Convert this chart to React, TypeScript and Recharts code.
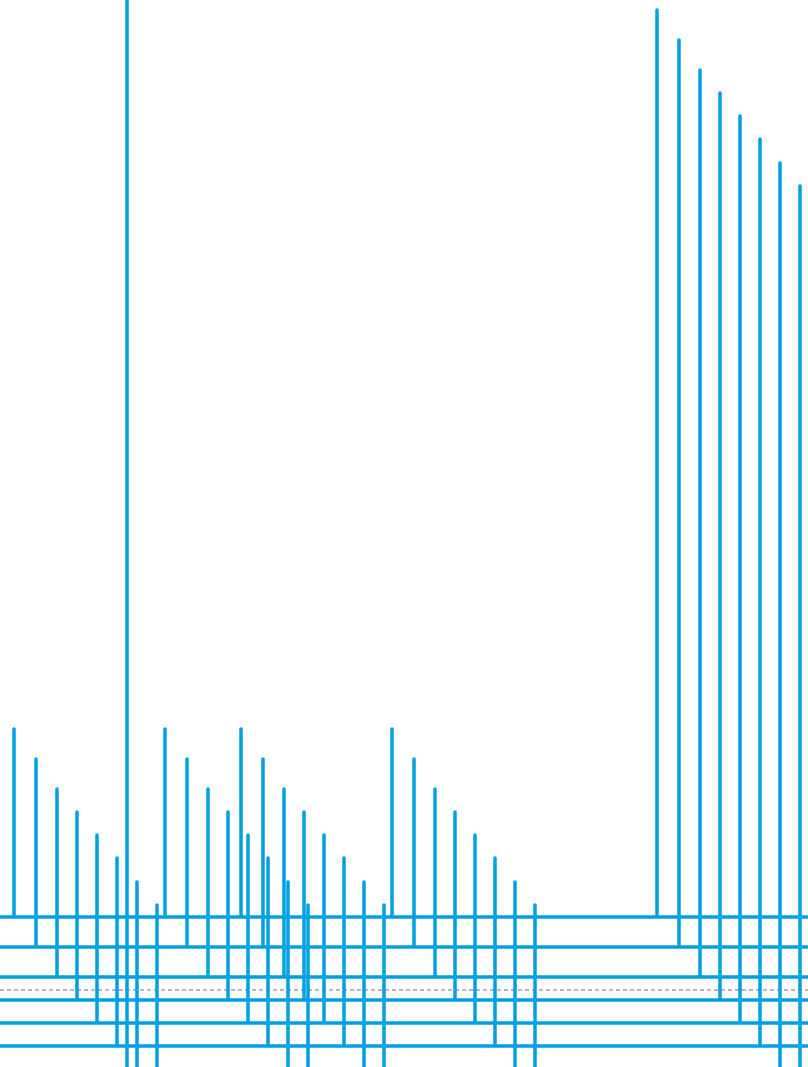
// Echoed spike lines: eight copies of one spike series, each shifted right and down.
import { Line, LineChart, ReferenceLine, XAxis, YAxis } from 'recharts'

const BLUE = '#00a0e3'

// x of each spike in the first echo, and its height above that echo's baseline
const spikeX = [14, 165, 241, 392, 657]
const spikeH = [188, 188, 188, 188, 907]

// per echo: shift to the right and baseline level
const echoShift = [0, 22, 43, 63, 83, 103, 123, 143]
const echoBase = [0, -30, -60, -83, -106, -129, -153, -176]

const tallX = 127 // lone line running through the whole chart
const markerY = -73 // dashed gray level

const X_MIN = 0
const X_MAX = 808
const Y_MIN = -150
const Y_MAX = 917

type Pt = { x: number; y: number }

function echo(i: number): Pt[] {
  const base = echoBase[i]
  const pts: Pt[] = [{ x: X_MIN - 20, y: base }]
  spikeX.forEach((sx, k) => {
    const x = sx + echoShift[i]
    pts.push({ x, y: base }, { x, y: base + spikeH[k] }, { x, y: base })
  })
  pts.push({ x: X_MAX + 20, y: base })
  return pts
}

export default function App() {
  return (
    <div style={{ position: 'absolute', left: 0, top: 0, width: 808, height: 1067, overflow: 'hidden', background: '#fff' }}>
      <LineChart width={808} height={1067} margin={{ top: 0, right: 0, bottom: 0, left: 0 }}>
        <XAxis type="number" dataKey="x" domain={[X_MIN, X_MAX]} allowDataOverflow hide />
        <YAxis type="number" dataKey="y" domain={[Y_MIN, Y_MAX]} allowDataOverflow hide />
        <ReferenceLine y={markerY} stroke="#9e9e9e" strokeWidth={1.5} strokeDasharray="4 3" ifOverflow="visible" />
        <ReferenceLine x={tallX} stroke={BLUE} strokeWidth={3.5} ifOverflow="visible" />
        {echoShift.map((_, i) => (
          <Line
            key={i}
            data={echo(i)}
            dataKey="y"
            type="linear"
            stroke={BLUE}
            strokeWidth={3.5}
            strokeLinejoin="round"
            dot={false}
            activeDot={false}
            isAnimationActive={false}
          />
        ))}
      </LineChart>
    </div>
  )
}
